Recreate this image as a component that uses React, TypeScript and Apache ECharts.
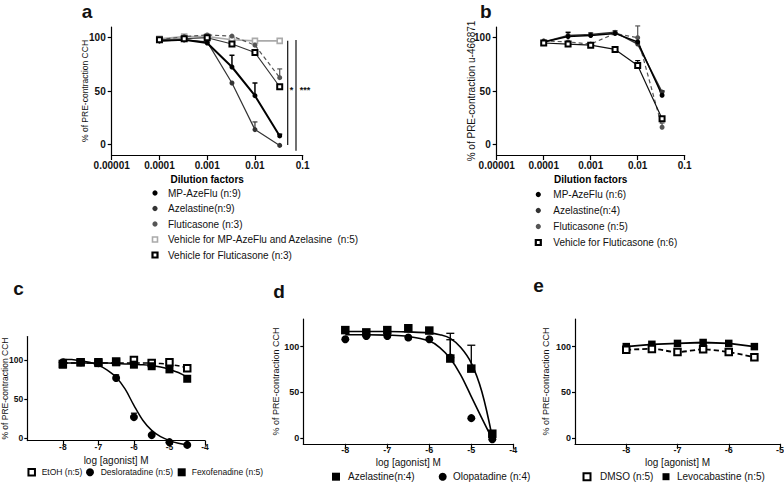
import React, { useEffect, useRef } from "react";
import * as echarts from "echarts";

const FONT = "Arial, 'Liberation Sans', Helvetica, sans-serif";

// ---------- Panel a ----------
const dilutionTickLabels = ["0.00001", "0.0001", "0.001", "0.01", "0.1"];
const dilutionsA = [0.0001, 0.00033, 0.001, 0.0033, 0.01, 0.033];
const namesA = [
  "MP-AzeFlu (n:9)",
  "Azelastine(n:9)",
  "Fluticasone (n:3)",
  "Vehicle for MP-AzeFlu and Azelasine  (n:5)",
  "Vehicle for Fluticasone (n:3)",
];
const aMpAzeFlu = [97, 98, 95, 72.5, 45.6, 7.9];
const aMpAzeFluErr = [null, null, null, 83.5, 57.5, 9.5];
const aAzelastine = [97, 98, 96, 57.5, 13.8, -1];
const aAzelastineErr = [null, null, null, null, 21, null];
const aFluticasone = [98, 101, 102.5, 101.5, 93, 62.5];
const aFluticasoneErr = [null, null, null, null, 95, 70.7];
const aVehicleMP = [99, 101, 101, 98, 97, 97];
const aVehicleFlu = [98, 99, 100, 94, 86, 54];

// ---------- Panel b ----------
const dilutionsB = [0.0001, 0.00033, 0.001, 0.0033, 0.01, 0.033];
const namesB = ["MP-AzeFlu (n:6)", "Azelastine(n:4)", "Fluticasone (n:5)", "Vehicle for Fluticasone (n:6)"];
const bMpAzeFlu = [96, 101, 102, 104, 96, 46];
const bMpAzeFluErr = [null, 105, null, null, null, 50];
const bAzelastine = [96, 102, 103, 105, 94, 49];
const bAzelastineErr = [null, null, 104.5, 106.5, null, null];
const bFluticasone = [97, 96, 94, 104, 100, 16];
const bFluticasoneErr = [null, null, null, null, 111, 20];
const bVehicleFlu = [95, 94, 93, 89, 74, 24];
const bVehicleFluErr = [null, null, null, null, 78.5, null];

// ---------- Panel c ----------
const logDoseC = [-8, -7.5, -7, -6.5, -6, -5.5, -5, -4.5];
const namesC = ["EtOH (n:5)", "Desloratadine (n:5)", "Fexofenadine (n:5)"];
const cEtOH = [95, 97, 97, 98, 100, 96, 97, 89.5];
const cDesloratadine = [97, 97, 96, 77, 27, 4, -5, -8.5];
const cDesloratadineErr = [null, null, null, 81, 32, null, null, null];
const cFexofenadine = [94, 97, 96, 97, 94, 92, 88, 76];
const curveXC = [-8, -7.75, -7.5, -7.25, -7, -6.75, -6.5, -6.25, -6, -5.75, -5.5, -5.25, -5, -4.75, -4.5];
const cDeslorCurve = [101, 100.5, 99, 97, 93.5, 87, 78, 63, 42, 23, 10, 2, -3, -6.5, -8.5];
const cFexoCurve = [96, 96, 96, 96, 96, 96, 95.5, 95, 94.5, 94, 93, 91, 88, 84, 78];
const cEtOHCurve = [96, 96, 96, 96, 96, 96, 96, 96, 96, 96, 96, 95.5, 94.5, 92.5, 90];

// ---------- Panel d ----------
const logDoseD = [-8, -7.5, -7, -6.5, -6, -5.5, -5, -4.5];
const namesD = ["Azelastine(n:4)", "Olopatadine (n:4)"];
const dAzelastine = [118, 115.5, 118, 120, 117.5, 87, 76, 5];
const dAzelastineErr = [null, null, null, null, null, 114.5, 101.5, null];
const dOlopatadine = [108, 111.5, 111.5, 110, 108, 88, 22, -1];
const dOlopatadineErr = [null, null, null, null, null, 107.5, null, null];
const curveXD = [-8, -7.5, -7, -6.5, -6, -5.75, -5.5, -5.25, -5, -4.75, -4.5];
const dAzelastineCurve = [116.5, 116.5, 116.5, 116, 115, 113, 109, 99, 82, 51, 1];
const dOlopatadineCurve = [113, 113, 112.5, 111, 106, 99, 87, 69, 45.5, 22, -1];

// ---------- Panel e ----------
const logDoseE = [-8, -7.5, -7, -6.5, -6, -5.5];
const namesE = ["DMSO (n:5)", "Levocabastine (n:5)"];
const eDMSO = [96.5, 97.5, 94, 97, 94, 88.5];
const eLevocabastine = [100, 102.5, 103.5, 104.5, 103.5, 100];

const yTicks = [0, 50, 100];
const logTicks = [-8, -7, -6, -5, -4];

const pairs = (xs: number[], ys: number[]) => xs.map((x, i) => [x, ys[i]]);
const errTriples = (xs: number[], ys: number[], tops: (number | null)[]) =>
  xs.map((x, i) => (tops[i] == null ? null : [x, ys[i], tops[i]])).filter((d) => d !== null);

function dataLine(idx: number, name: string, xs: number[], ys: number[], o: any) {
  return {
    type: "line",
    name,
    xAxisIndex: idx,
    yAxisIndex: idx,
    data: pairs(xs, ys),
    symbol: o.symbol || "circle",
    symbolSize: o.size,
    showSymbol: true,
    clip: false,
    silent: true,
    z: o.z || 3,
    lineStyle: { color: o.lineColor, width: o.lineWidth, type: o.dash || "solid" },
    itemStyle: { color: o.fill, borderColor: o.stroke || o.fill, borderWidth: o.strokeWidth || 0, opacity: 1 },
    emphasis: { disabled: true },
  };
}

function curve(idx: number, xs: number[], ys: number[], color: string, width: number, dash?: any) {
  return {
    type: "line",
    xAxisIndex: idx,
    yAxisIndex: idx,
    data: pairs(xs, ys),
    symbol: "none",
    smooth: 0.35,
    clip: false,
    silent: true,
    z: 2,
    lineStyle: { color, width, type: dash || "solid" },
    emphasis: { disabled: true },
  };
}

function points(idx: number, name: string, xs: number[], ys: number[], o: any) {
  return {
    type: "scatter",
    name,
    xAxisIndex: idx,
    yAxisIndex: idx,
    data: pairs(xs, ys),
    symbol: o.symbol,
    symbolSize: o.size,
    clip: false,
    silent: true,
    z: o.z || 4,
    itemStyle: { color: o.fill, borderColor: o.stroke || o.fill, borderWidth: o.strokeWidth || 0, opacity: 1 },
    emphasis: { disabled: true },
  };
}

function errBars(idx: number, xs: number[], ys: number[], tops: (number | null)[], color: string, lw: number, cap: number) {
  return {
    type: "custom",
    xAxisIndex: idx,
    yAxisIndex: idx,
    data: errTriples(xs, ys, tops),
    encode: { x: 0, y: 1 },
    clip: false,
    silent: true,
    z: 1,
    renderItem: (params: any, api: any) => {
      const p = api.coord([api.value(0), api.value(1)]);
      const q = api.coord([api.value(0), api.value(2)]);
      return {
        type: "group",
        children: [
          { type: "line", shape: { x1: p[0], y1: p[1], x2: q[0], y2: q[1] }, style: { stroke: color, lineWidth: lw } },
          { type: "line", shape: { x1: q[0] - cap, y1: q[1], x2: q[0] + cap, y2: q[1] }, style: { stroke: color, lineWidth: lw } },
        ],
      };
    },
  };
}

function yAxis(idx: number, min: number, max: number, name: string, nameSize: number, nameGap: number, labelSize: number, tickLen: number, margin: number) {
  return {
    gridIndex: idx,
    type: "value",
    min,
    max,
    splitLine: { show: false },
    axisLine: { show: true, lineStyle: { color: "#000", width: 1.2 } },
    axisTick: { show: true, length: tickLen, customValues: yTicks, lineStyle: { color: "#000", width: 1.2 } },
    axisLabel: { customValues: yTicks, fontSize: labelSize, fontWeight: "bold", color: "#111", margin, fontFamily: FONT },
    name,
    nameLocation: "middle",
    nameRotate: 90,
    nameGap,
    nameMoveOverlap: false,
    nameTextStyle: { fontSize: nameSize, color: "#111", fontFamily: FONT },
  };
}

function dilutionXAxis(idx: number) {
  return {
    gridIndex: idx,
    type: "value",
    min: -5,
    max: -1,
    interval: 1,
    splitLine: { show: false },
    axisLine: { show: true, onZero: false, lineStyle: { color: "#000", width: 1.2 } },
    axisTick: { show: true, length: 5, lineStyle: { color: "#000", width: 1.2 } },
    axisLabel: {
      fontSize: 10,
      fontWeight: "bold",
      color: "#111",
      margin: 5,
      fontFamily: FONT,
      formatter: (v: number) => dilutionTickLabels[Math.round(v) + 5],
    },
    name: "Dilution factors",
    nameLocation: "middle",
    nameGap: 19,
    nameMoveOverlap: false,
    nameTextStyle: { fontSize: 10, fontWeight: "bold", color: "#000", fontFamily: FONT },
  };
}

function logXAxis(idx: number, max: number, labelSize: number, margin: number, nameGap: number) {
  const ticks = logTicks.filter((t) => t <= max);
  return {
    gridIndex: idx,
    type: "value",
    min: -9,
    max,
    splitLine: { show: false },
    axisLine: { show: true, onZero: false, lineStyle: { color: "#000", width: 1.2 } },
    axisTick: { show: true, length: 5, customValues: ticks, lineStyle: { color: "#000", width: 1.2 } },
    axisLabel: { customValues: ticks, fontSize: labelSize, fontWeight: "bold", color: "#111", margin, fontFamily: FONT },
    name: "log [agonist] M",
    nameLocation: "middle",
    nameGap,
    nameMoveOverlap: false,
    nameTextStyle: { fontSize: 10, color: "#111", fontFamily: FONT },
  };
}

const txt = (x: number, y: number, text: string, size: number, weight = "normal", align = "left") => ({
  type: "text",
  x,
  y,
  silent: true,
  style: { text, fontSize: size, fontWeight: weight, fontFamily: FONT, fill: "#111", align, verticalAlign: "middle" },
});
const dot = (cx: number, cy: number, r: number, fill: string) => ({
  type: "circle",
  silent: true,
  shape: { cx, cy, r },
  style: { fill },
});
const sq = (cx: number, cy: number, s: number, fill: string, stroke: string, lw: number) => ({
  type: "rect",
  silent: true,
  shape: { x: cx - s / 2, y: cy - s / 2, width: s, height: s },
  style: { fill, stroke, lineWidth: lw },
});
const ln = (x1: number, y1: number, x2: number, y2: number) => ({
  type: "line",
  silent: true,
  shape: { x1, y1, x2, y2 },
  style: { stroke: "#111", lineWidth: 1.2 },
});

export default function App() {
  const ref = useRef<HTMLDivElement>(null);
  useEffect(() => {
    if (!ref.current) return;
    const chart = echarts.init(ref.current, null, { renderer: "svg" });
    const xa = dilutionsA.map((v) => Math.log10(v));
    const xb = dilutionsB.map((v) => Math.log10(v));

    const rowsA = [193, 208.5, 224, 239.5, 255];
    const rowsB = [194.5, 210.5, 226.5, 242.5];

    const option: any = {
      animation: false,
      backgroundColor: "#fff",
      textStyle: { fontFamily: FONT },
      grid: [
        { left: 111.7, top: 27, width: 191, height: 128, outerBoundsMode: "none" },
        { left: 496.7, top: 27, width: 188, height: 128, outerBoundsMode: "none" },
        { left: 27.3, top: 336.5, width: 177.7, height: 104.1, outerBoundsMode: "none" },
        { left: 303.3, top: 319.1, width: 210, height: 124.7, outerBoundsMode: "none" },
        { left: 575, top: 319.1, width: 205, height: 124.7, outerBoundsMode: "none" },
      ],
      xAxis: [
        dilutionXAxis(0),
        dilutionXAxis(1),
        logXAxis(2, -4, 8.5, 2, 14.5),
        logXAxis(3, -4, 9, 2, 14),
        logXAxis(4, -5, 9, 2, 13.5),
      ],
      yAxis: [
        yAxis(0, -10, 110, "% of PRE-contraction CCH", 8.5, 22.5, 10, 4, 6),
        yAxis(1, -10, 110, "% of PRE-contraction u-466871", 10, 20, 10, 4, 6),
        yAxis(2, -3, 130, "% of PRE-contraction CCH", 8.5, 18, 8.5, 3, 4),
        yAxis(3, -6, 130, "% of PRE-contraction CCH", 9, 23, 9, 3, 4),
        yAxis(4, -6, 130, "% of PRE-contraction CCH", 9, 24.5, 9, 3, 4),
      ],
      series: [
        // a
        errBars(0, xa, aMpAzeFlu, aMpAzeFluErr, "#000", 1.5, 2.5),
        errBars(0, xa, aAzelastine, aAzelastineErr, "#333", 1.2, 2.5),
        errBars(0, xa, aFluticasone, aFluticasoneErr, "#555", 1.2, 2.5),
        dataLine(0, namesA[3], xa, aVehicleMP, { symbol: "rect", size: 5, fill: "#fff", stroke: "#aaa", strokeWidth: 1.6, lineColor: "#aaa", lineWidth: 1.6 }),
        dataLine(0, namesA[2], xa, aFluticasone, { size: 5, fill: "#555", lineColor: "#555", lineWidth: 1.2, dash: [4, 3] }),
        dataLine(0, namesA[1], xa, aAzelastine, { size: 5, fill: "#333", lineColor: "#333", lineWidth: 1.2 }),
        dataLine(0, namesA[0], xa, aMpAzeFlu, { size: 5, fill: "#000", lineColor: "#000", lineWidth: 2 }),
        dataLine(0, namesA[4], xa, aVehicleFlu, { symbol: "rect", size: 5, fill: "#fff", stroke: "#000", strokeWidth: 2, lineColor: "#333", lineWidth: 1.1, z: 4 }),
        // b
        errBars(1, xb, bMpAzeFlu, bMpAzeFluErr, "#000", 1.5, 2.5),
        errBars(1, xb, bAzelastine, bAzelastineErr, "#333", 1.2, 2.5),
        errBars(1, xb, bFluticasone, bFluticasoneErr, "#555", 1.2, 2.5),
        errBars(1, xb, bVehicleFlu, bVehicleFluErr, "#000", 1.2, 2.5),
        dataLine(1, namesB[2], xb, bFluticasone, { size: 5, fill: "#555", lineColor: "#555", lineWidth: 1.2, dash: [4, 3] }),
        dataLine(1, namesB[1], xb, bAzelastine, { size: 5, fill: "#333", lineColor: "#333", lineWidth: 1.5 }),
        dataLine(1, namesB[0], xb, bMpAzeFlu, { size: 5, fill: "#000", lineColor: "#000", lineWidth: 1.5 }),
        dataLine(1, namesB[3], xb, bVehicleFlu, { symbol: "rect", size: 5, fill: "#fff", stroke: "#000", strokeWidth: 2, lineColor: "#111", lineWidth: 1.2, z: 4 }),
        // c
        curve(2, curveXC, cEtOHCurve, "#000", 1.5, [5, 3]),
        curve(2, curveXC, cFexoCurve, "#000", 1.5),
        curve(2, curveXC, cDeslorCurve, "#000", 1.5),
        errBars(2, logDoseC, cDesloratadine, cDesloratadineErr, "#000", 1.3, 3),
        points(2, namesC[0], logDoseC, cEtOH, { symbol: "rect", size: 6.5, fill: "#fff", stroke: "#000", strokeWidth: 2 }),
        points(2, namesC[1], logDoseC, cDesloratadine, { symbol: "circle", size: 8, fill: "#000" }),
        points(2, namesC[2], logDoseC, cFexofenadine, { symbol: "rect", size: 8, fill: "#000" }),
        // d
        curve(3, curveXD, dAzelastineCurve, "#000", 1.6),
        curve(3, curveXD, dOlopatadineCurve, "#000", 1.6),
        errBars(3, logDoseD, dAzelastine, dAzelastineErr, "#000", 1.3, 4),
        errBars(3, logDoseD, dOlopatadine, dOlopatadineErr, "#000", 1.3, 4),
        points(3, namesD[1], logDoseD, dOlopatadine, { symbol: "circle", size: 8, fill: "#000" }),
        points(3, namesD[0], logDoseD, dAzelastine, { symbol: "rect", size: 8.5, fill: "#000" }),
        // e
        dataLine(4, namesE[1], logDoseE, eLevocabastine, { symbol: "rect", size: 7.5, fill: "#000", lineColor: "#000", lineWidth: 1.8 }),
        { ...dataLine(4, namesE[0], logDoseE, eDMSO, { symbol: "rect", size: 6.5, fill: "#fff", stroke: "#000", strokeWidth: 2, lineColor: "#000", lineWidth: 1.8, dash: [5, 3], z: 4 }), smooth: 0.3 },
      ],
      graphic: [
        // panel letters
        txt(81.7, 11, "a", 19, "bold"),
        txt(480, 11, "b", 19, "bold"),
        txt(13.3, 288.5, "c", 19, "bold"),
        txt(273.3, 291.5, "d", 19, "bold"),
        txt(533.3, 285.5, "e", 19, "bold"),
        // significance in a
        ln(287.7, 40.7, 287.7, 145),
        ln(296, 40, 296, 150.7),
        txt(291.5, 90, "*", 9, "bold", "center"),
        txt(305, 90, "***", 9, "bold", "center"),
        // legend a
        dot(155, rowsA[0], 2.6, "#000"),
        txt(168, rowsA[0], namesA[0], 10),
        dot(155, rowsA[1], 2.6, "#333"),
        txt(168, rowsA[1], namesA[1], 10),
        dot(155, rowsA[2], 2.6, "#555"),
        txt(168, rowsA[2], namesA[2], 10),
        sq(155, rowsA[3], 5, "#fff", "#aaa", 1.6),
        txt(168, rowsA[3], namesA[3], 10),
        sq(155, rowsA[4], 5, "#fff", "#000", 2.2),
        txt(168, rowsA[4], namesA[4], 10),
        // legend b
        dot(538.3, rowsB[0], 2.6, "#000"),
        txt(553.3, rowsB[0], namesB[0], 10),
        dot(538.3, rowsB[1], 2.6, "#333"),
        txt(553.3, rowsB[1], namesB[1], 10),
        dot(538.3, rowsB[2], 2.6, "#555"),
        txt(553.3, rowsB[2], namesB[2], 10),
        sq(538.3, rowsB[3], 5, "#fff", "#000", 2.2),
        txt(553.3, rowsB[3], namesB[3], 10),
        // legend c
        sq(31.7, 472.3, 6.5, "#fff", "#000", 2),
        txt(41.7, 472.3, namesC[0], 8.5),
        dot(90, 472.3, 4, "#000"),
        txt(100.7, 472.3, namesC[1], 8.5),
        sq(181.7, 472.3, 8, "#000", "#000", 0),
        txt(191.7, 472.3, namesC[2], 8.5),
        // legend d
        sq(336, 476.7, 8, "#000", "#000", 0),
        txt(348, 476.7, namesD[0], 10),
        dot(442.7, 476.7, 4, "#000"),
        txt(453, 476.7, namesD[1], 10),
        // legend e
        sq(587, 476.7, 7, "#fff", "#000", 2),
        txt(600, 476.7, namesE[0], 10),
        sq(666, 476.7, 7, "#000", "#000", 0),
        txt(677, 476.7, namesE[1], 10),
      ],
    };
    chart.setOption(option);
    return () => chart.dispose();
  }, []);

  return <div ref={ref} style={{ position: "absolute", left: 0, top: 0, width: 784, height: 484 }} />;
}
